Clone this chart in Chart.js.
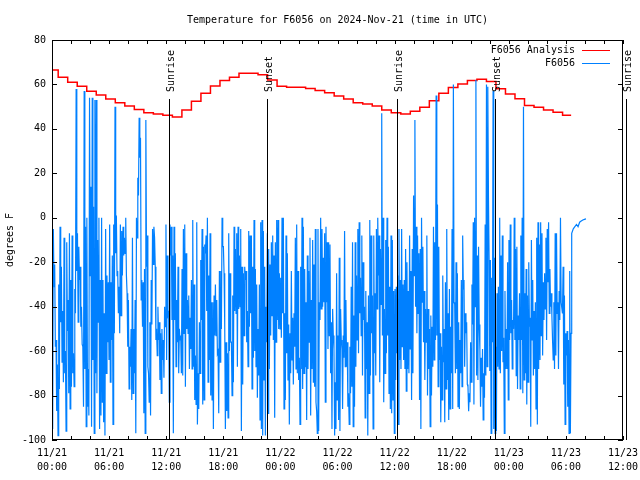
<!DOCTYPE html>
<html>
<head>
<meta charset="utf-8">
<title>Temperature for F6056</title>
<script src="https://cdn.jsdelivr.net/npm/chart.js@4.4.1/dist/chart.umd.min.js"></script>
<style>
  html, body { margin: 0; padding: 0; background: #fff; }
  canvas { display: block; }
</style>
</head>
<body>
<canvas id="myChart" width="640" height="480"></canvas>
<script>
// all times are hours since 2024-11-21 00:00 UTC

// hourly analysis, the first level holds from 00:00, then one step per hour at hh:39
const analysisTemps = [
  66.5, 63.2, 61.0, 59.2, 56.9, 55.2, 53.4, 51.8, 50.3, 48.7, 47.3, 46.7, 46.1, 45.4,
  48.5, 52.4, 56.0, 59.3, 61.8, 63.2, 65.0, 65.0, 64.4, 62.0, 59.2, 58.7, 58.7, 58.2,
  57.3, 56.3, 54.8, 53.4, 51.8, 51.2, 50.3, 48.5, 47.3, 46.7, 47.9, 49.7, 52.7, 56.0,
  58.6, 60.2, 61.8, 62.3, 61.3, 58.1, 55.7, 53.6, 50.5, 49.7, 48.5, 47.5, 46.1
];
const analysisStepOffset = 0.65;
const analysisEnd = 54.55;

const f6056Spans = [[0, 14.37], [14.37, 29.21], [29.21, 43.85], [43.85, 54.61]];

const f6056Day1Morning = [
  -50, -95, -5, -31, -21, -58, -55, -87, -66, -98, -30, -77, -4, -47, -22, -65, -42, -74, -9, -70,
  -60, -96, -11, -51, -37, -79, -7, -86, -28, -76, -8, -70, -61, -76, -32, -43, 58, -24, -7, -47,
  -13, -28, -22, -49, -40, -57, -58, -85, 57, -68, -4, -94, 0, -85, -68, -89, 54, -26, 14, -94,
  54, -64, 5, -97, 53, -70, 53, -79, -10, -47, 0, -95, -28, -89, 0, -83, -28, -92, -43, -98,
  -5, -70, -26, -56, -29, -64, -3, -74, -29, -55, -17, -93, -3, -52, 50, -16, 1, -26, -24, -43,
  -31, -52, -3, -44, -6, -26, -4, -17, -9, -16, 0, -26, -34, -58, -37, -77, -58, -67, -50, -82,
  -9, -79, -50, -70, -37, -97, 0, -9, 18, 10, 45, 27, 36, -37, -28, -49, -29, -88, -23, -97,
  44, -22, -8, -67, -70, -83, -47, -89, -28, -48, -5, -21, -4, -9, -22, -55, -50, -62, -40, -55,
  -47, -73, -52, -79, -50, -64, -55, -72, -40, -49, -3, -64, -17, -44, -43, -83, -3, -17, -4, -46,
  -17, -97, -4, -46, -16, -67, -37, -56, -22, -70, -50, -55, -53, -70, -23, -71, -5, -52, -3, -76,
  -16, -50, -37, -52
];

const f6056Day1Evening = [
  -35, -68, -45, -59, -28, -68, -1, -67, -30, -82, -62, -84, -2, -93, -70, -86, -47, -70, -19, -46,
  -5, -84, -13, -82, -12, -16, -8, -42, 0, -74, -26, -64, -7, -80, -38, -82, -38, -95, -35, -53,
  -30, -53, -37, -61, -60, -88, -24, -65, -24, -50, 0, -13, -13, -25, -48, -95, -56, -87, -61, -90,
  -7, -60, -25, -56, -56, -80, -35, -74, -4, -42, -14, -43, -7, -67, -4, -41, -17, -40, -5, -96,
  -22, -75, -25, -53, -22, -28, -24, -56, -42, -67, -6, -49, -8, -43, -8, -77, -22, -63, -1, -60,
  -23, -67, -30, -81, -50, -71, -30, -91, -2, -95, -1, -98, -6, -73, -22, -98, -40, -56, -7, -88,
  -14, -68, -21, -53, -11, -44, -8, -55, -17, -90, -11, -56, -1, -46, -1, -50, -25, -50, -27, -54,
  0, -43, 0, -86, -43, -82, -8, -61, -16, -73, -48, -93, -52, -70, -24, -64, -45, -75, -43, -58,
  -9, -68, -3, -70, -24, -73, -63, -93, -22, -68, 0, -77, -4, -70, -23, -67, -38, -91, -17, -68,
  -24, -56, -9, -89, -37, -68, -10, -74, -21, -76, -5, -83, -87, -97, -5, -96, -38, -46, 0, -41,
  -5, -40, -18, -38, -7, -83, -4, -38, -11, -59, -11, -53
];

const f6056Day2 = [
  -12, -70, -47, -95, -41, -53, -59, -98, -74, -95, -25, -82, -53, -91, -18, -96, -41, -55, -59, -86,
  -53, -63, -6, -67, -37, -67, -56, -85, -79, -93, -58, -79, -31, -76, -11, -94, -44, -85, -11, -67,
  -26, -55, -5, -61, -2, -43, -27, -53, -8, -71, -20, -46, -40, -90, -33, -68, -47, -98, -35, -79,
  -1, -71, -8, -52, -35, -95, -8, -61, -34, -71, -5, -41, 0, -26, -8, -74, -14, -39, 47, -53,
  0, -83, -41, -70, -10, -61, 0, -53, -13, -79, -31, -86, -8, -88, -10, -82, -33, -97, -32, -73,
  -31, -61, -26, -93, -5, -64, -28, -68, -5, -58, -30, -64, -28, -68, -14, -78, -20, -68, -33, -70,
  -8, -59, -24, -82, -14, -70, 10, -26, 44, -40, -4, -52, -8, -43, -16, -82, -14, -95, 0, -38,
  -13, -56, -33, -73, -41, -56, -8, -80, -41, -68, -50, -94, -44, -80, -49, -67, -4, -64, -11, -55,
  55, -53, 6, -76, -13, -64, -52, -92, -58, -82, -26, -65, -50, -92, -29, -77, -5, -73, -43, -91,
  -32, -86, -49, -70, -5, -86, 60, -38, -39, -70, -20, -68, -25, -85, -47, -86, -55, -70, -28, -76,
  -8, -32, -28, -67, -43, -52, -47, -75, -76, -87
];

const f6056Day3 = [
  -79, -83, -56, -74, -30, -48, -2, -84, 0, -40, 62, -71, -17, -73, -13, -48, -59, -85, -63, -76,
  -59, -91, -70, -81, -3, -71, 60, -67, 59, 9, -19, -69, -19, -97, -27, -56, 57, -95, -18, -97,
  -58, -96, -34, -67, -31, -68, 0, -70, -17, -60, -8, -65, -54, -97, -33, -68, -50, -68, -20, -82,
  -10, -55, -3, -52, -37, -68, -46, -50, 0, -55, -14, -71, -13, -77, -44, -55, -34, -77, -8, -55,
  0, -79, 50, -73, -34, -70, -23, -84, -35, -74, -20, -49, -45, -94, -10, -55, -28, -71, -42, -68,
  -38, -86, -9, -93, -2, -68, -12, -64, -2, -53, -7, -62, -29, -46, -25, -41, -9, -55, -5, -29,
  -2, -43, -23, -40, -34, -44, -55, -64, -38, -68, -7, -62, -7, -43, -38, -68, -33, -46, 0, -38,
  -38, -43, -22, -75, -35, -93, -52, -62, -51, -85, -55, -97, -24, -97, -52
];

// last readings are every 10 minutes
const f6056Tail = [-7, -5, -4, -3, -4, -2, -1.5, -1, -0.7, -0.5];
const f6056TailStart = 54.61;
const f6056TailStep = 1 / 6;

const sunLabels = ["Sunrise", "Sunset", "Sunrise", "Sunset", "Sunrise"];
const sunHours = [12.32, 22.62, 36.28, 46.58, 60.28];

const xTicks = { min: 0, max: 60, step: 6, minorStep: 2 };
const yTicks = { min: -100, max: 80, step: 20 };

const RED = "#ff0000";
const BLUE = "#0080ff";
const MONO = "'DejaVu Sans Mono', 'Liberation Mono', monospace";

// build the point lists
const analysisPoints = analysisTemps.map((t, i) => ({
  x: i === 0 ? 0 : i - 1 + analysisStepOffset,
  y: t,
}));
analysisPoints.push({ x: analysisEnd, y: analysisTemps[analysisTemps.length - 1] });

const stationPoints = [];
[f6056Day1Morning, f6056Day1Evening, f6056Day2, f6056Day3].forEach((vals, s) => {
  const [start, end] = f6056Spans[s];
  vals.forEach((v, i) => {
    stationPoints.push({ x: start + ((end - start) * i) / vals.length, y: v });
  });
});
f6056Tail.forEach((v, i) => {
  stationPoints.push({ x: f6056TailStart + i * f6056TailStep, y: v });
});

// frame, inward tics, sun markers and the key, drawn the gnuplot way
const gnuplotFrame = {
  id: "gnuplotFrame",
  afterDatasetsDraw(chart) {
    const { ctx, chartArea: a, scales } = chart;
    const x = scales.x;
    const y = scales.y;
    ctx.save();
    ctx.lineWidth = 1;
    ctx.strokeStyle = "#000";
    ctx.fillStyle = "#000";
    ctx.font = "10px " + MONO;

    sunHours.forEach((h, i) => {
      const px = Math.round(x.getPixelForValue(h)) + 0.5;
      const top = Math.round(y.getPixelForValue(53.5));
      ctx.beginPath();
      ctx.moveTo(px, top);
      ctx.lineTo(px, a.bottom);
      ctx.stroke();
      ctx.save();
      ctx.translate(px + 1.5, top - 7);
      ctx.rotate(-Math.PI / 2);
      ctx.textAlign = "left";
      ctx.textBaseline = "middle";
      ctx.fillText(sunLabels[i], 0, 0);
      ctx.restore();
    });

    ctx.strokeRect(a.left + 0.5, a.top + 0.5, a.right - a.left - 1, a.bottom - a.top - 1);

    ctx.beginPath();
    for (let h = xTicks.min; h <= xTicks.max; h += xTicks.minorStep) {
      const px = Math.round(x.getPixelForValue(h)) + 0.5;
      ctx.moveTo(px, a.bottom);
      ctx.lineTo(px, a.bottom - 4);
      ctx.moveTo(px, a.top);
      ctx.lineTo(px, a.top + 4);
    }
    for (let v = yTicks.min; v <= yTicks.max; v += yTicks.step) {
      const py = Math.round(y.getPixelForValue(v)) + 0.5;
      ctx.moveTo(a.left, py);
      ctx.lineTo(a.left + 5, py);
      ctx.moveTo(a.right, py);
      ctx.lineTo(a.right - 5, py);
    }
    ctx.stroke();

    // key, top right
    const key = [["F6056 Analysis", RED], ["F6056", BLUE]];
    key.forEach(([label, color], i) => {
      const ty = a.top + 10 + i * 13;
      ctx.textAlign = "right";
      ctx.textBaseline = "middle";
      ctx.fillStyle = "#000";
      ctx.fillText(label, a.right - 48, ty);
      ctx.strokeStyle = color;
      ctx.beginPath();
      ctx.moveTo(a.right - 41, ty + 0.5);
      ctx.lineTo(a.right - 13, ty + 0.5);
      ctx.stroke();
    });
    ctx.restore();
  },
};

Chart.defaults.font.family = MONO;
Chart.defaults.font.size = 10;
Chart.defaults.color = "#000";

new Chart(document.getElementById("myChart"), {
  type: "line",
  data: {
    datasets: [
      {
        label: "F6056 Analysis",
        data: analysisPoints,
        borderColor: RED,
        borderWidth: 1.5,
        stepped: true,
        pointRadius: 0,
        order: 1,
      },
      {
        label: "F6056",
        data: stationPoints,
        borderColor: BLUE,
        borderWidth: 1.2,
        tension: 0,
        pointRadius: 0,
        order: 0,
      },
    ],
  },
  options: {
    responsive: false,
    devicePixelRatio: 1,
    animation: false,
    events: [],
    layout: { padding: { top: 0, right: 17, bottom: 0, left: 0 } },
    scales: {
      x: {
        type: "linear",
        min: xTicks.min,
        max: xTicks.max,
        grid: { display: false, drawTicks: false },
        border: { display: false },
        ticks: {
          stepSize: xTicks.step,
          autoSkip: false,
          maxRotation: 0,
          padding: 7,
          font: { size: 10, lineHeight: 1.35 },
          callback: (value) => {
            const day = 21 + Math.floor(value / 24);
            const hour = value % 24;
            return ["11/" + day, String(hour).padStart(2, "0") + ":00"];
          },
        },
        afterFit: (scale) => {
          scale.height = 40;
          // the last label may hang over the right margin, as in the original
          scale.paddingLeft = 0;
          scale.paddingRight = 0;
        },
      },
      y: {
        min: yTicks.min,
        max: yTicks.max,
        grid: { display: false, drawTicks: false },
        border: { display: false },
        ticks: { stepSize: yTicks.step, padding: 6 },
        title: { display: true, text: "degrees F", font: { size: 10 }, padding: { top: 4, bottom: 4 } },
        afterFit: (scale) => { scale.width = 52; },
      },
    },
    plugins: {
      legend: { display: false },
      tooltip: { enabled: false },
      title: {
        display: true,
        text: "Temperature for F6056 on 2024-Nov-21 (time in UTC)",
        fullSize: false,
        font: { size: 10, weight: "normal" },
        padding: { top: 14, bottom: 14 },
      },
    },
  },
  plugins: [gnuplotFrame],
});
</script>
</body>
</html>
